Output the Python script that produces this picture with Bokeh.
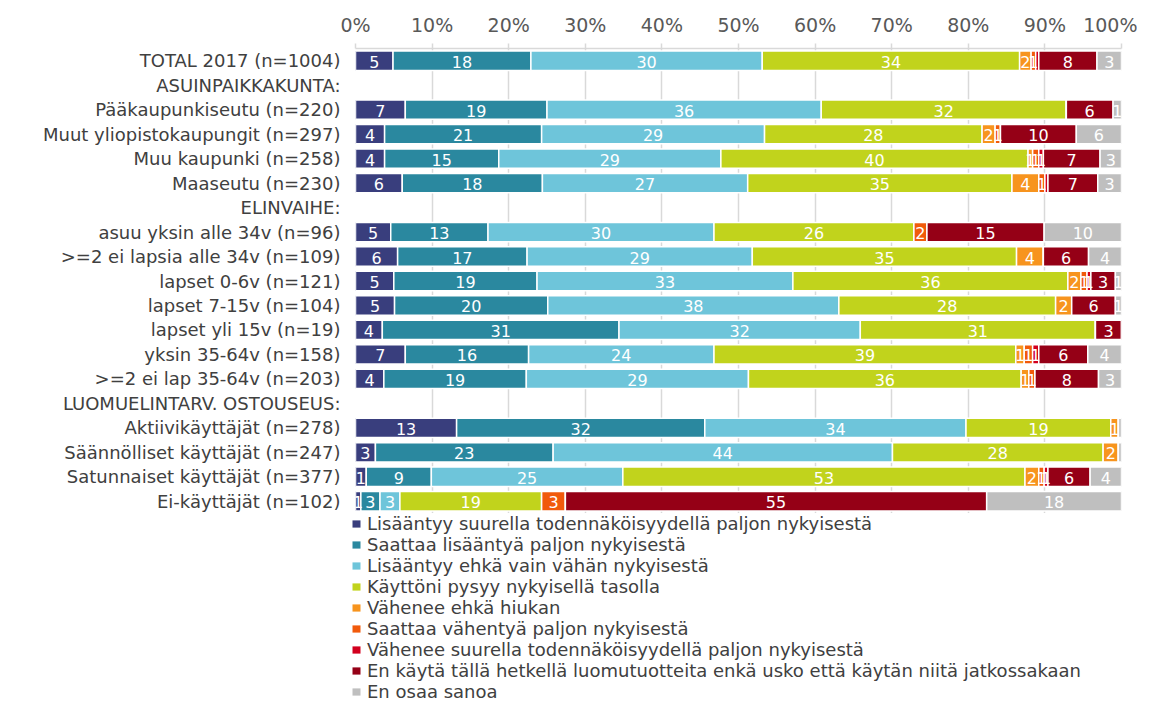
import math
from bokeh.plotting import figure
from bokeh.layouts import column
from bokeh.models import (ColumnDataSource, FactorRange, Range1d, FixedTicker,
                          Legend, LegendItem, Label, LabelSet)
from bokeh.embed import file_html
from bokeh.resources import INLINE
from bokeh.core.properties import value

categories = [
    "TOTAL 2017 (n=1004)", "ASUINPAIKKAKUNTA:", "Pääkaupunkiseutu (n=220)",
    "Muut yliopistokaupungit (n=297)", "Muu kaupunki (n=258)", "Maaseutu (n=230)",
    "ELINVAIHE:", "asuu yksin alle 34v (n=96)", ">=2 ei lapsia alle 34v (n=109)",
    "lapset 0-6v (n=121)", "lapset 7-15v (n=104)", "lapset yli 15v (n=19)",
    "yksin 35-64v (n=158)", ">=2 ei lap 35-64v (n=203)", "LUOMUELINTARV. OSTOUSEUS:",
    "Aktiivikäyttäjät (n=278)", "Säännölliset käyttäjät (n=247)",
    "Satunnaiset käyttäjät (n=377)", "Ei-käyttäjät (n=102)",
]
header_rows = ["ASUINPAIKKAKUNTA:", "ELINVAIHE:", "LUOMUELINTARV. OSTOUSEUS:"]

series_names = [
    "Lisääntyy suurella todennäköisyydellä paljon nykyisestä",
    "Saattaa lisääntyä paljon nykyisestä",
    "Lisääntyy ehkä vain vähän nykyisestä",
    "Käyttöni pysyy nykyisellä tasolla",
    "Vähenee ehkä hiukan",
    "Saattaa vähentyä paljon nykyisestä",
    "Vähenee suurella todennäköisyydellä paljon nykyisestä",
    "En käytä tällä hetkellä luomutuotteita enkä usko että käytän niitä jatkossakaan",
    "En osaa sanoa",
]
colors = ["#393E7D", "#2A889F", "#6EC5DA", "#C1D31C", "#F7941E",
          "#F15A0B", "#D2001E", "#950016", "#BFBFBF"]

lisaantyy_paljon = [4.9, 0, 6.5, 3.8, 3.8, 6.1, 0, 4.6, 5.5, 5.0, 5.1, 3.5, 6.5, 3.7, 0, 13.2, 2.6, 1.4, 0.7]
saattaa_lisaantya = [18.0, 0, 18.5, 20.5, 14.9, 18.3, 0, 12.7, 16.9, 18.7, 20.0, 30.9, 16.1, 18.6, 0, 32.4, 23.2, 8.5, 2.5]
lisaantyy_vahan = [30.2, 0, 35.8, 29.1, 29.0, 26.8, 0, 29.5, 29.4, 33.4, 38.0, 31.5, 24.2, 29.0, 0, 34.1, 44.3, 25.0, 2.6]
pysyy = [33.6, 0, 32.0, 28.4, 40.1, 34.5, 0, 26.1, 34.5, 35.9, 28.3, 30.7, 39.4, 35.6, 0, 18.9, 27.5, 52.5, 18.5]
vahenee_hiukan = [1.5, 0, 0, 1.7, 0.6, 3.5, 0, 0, 3.5, 1.7, 2.1, 0, 1.1, 1.0, 0, 1.0, 2.0, 1.8, 0]
saattaa_vahentya = [0.6, 0, 0, 0.7, 0.8, 0.8, 0, 1.7, 0, 0.8, 0, 0, 1.1, 0.8, 0, 0, 0, 0.7, 3.1]
vahenee_paljon = [0.4, 0, 0, 0, 0.6, 0.4, 0, 0, 0, 0.5, 0, 0, 0.8, 0, 0, 0, 0, 0.5, 0]
en_kayta = [7.6, 0, 6.1, 9.9, 7.4, 6.5, 0, 15.3, 5.9, 3.2, 5.7, 3.4, 6.4, 8.3, 0, 0, 0, 5.5, 55.0]
en_osaa = [3.2, 0, 1.1, 5.9, 2.8, 3.1, 0, 10.1, 4.3, 0.8, 0.8, 0, 4.4, 3.0, 0, 0.4, 0.4, 4.1, 17.6]

tick_values = [0, 10, 20, 30, 40, 50, 60, 70, 80, 90, 100]
tick_labels = ["0%", "10%", "20%", "30%", "40%", "50%", "60%", "70%", "80%", "90%", "100%"]

series = [lisaantyy_paljon, saattaa_lisaantya, lisaantyy_vahan, pysyy, vahenee_hiukan,
          saattaa_vahentya, vahenee_paljon, en_kayta, en_osaa]
keys = [f"s{i}" for i in range(len(series))]

FONT = "DejaVu Sans"
TXT = "#404040"

data = {"cat": categories,
        "la": [0.0 if c in header_rows else 1.0 for c in categories]}
for k, s in zip(keys, series):
    data[k] = s
source = ColumnDataSource(data)

p = figure(width=1137, height=513, output_backend="svg", toolbar_location=None,
           x_range=Range1d(0, 100), y_range=FactorRange(factors=list(reversed(categories))),
           x_axis_location="above",
           min_border_left=355, min_border_right=16, min_border_top=48, min_border_bottom=0)
p.outline_line_color = None
p.background_fill_color = "white"

renderers = p.hbar_stack(keys, y="cat", height=0.79, color=colors, source=source,
                         line_color="white", line_width=1.5, line_alpha="la")

# value labels
lx, ly, lt = [], [], []
for i, c in enumerate(categories):
    left = 0.0
    for s in series:
        v = s[i]
        r = math.floor(v + 0.5)
        if r >= 1:
            lx.append(left + v / 2)
            ly.append(c)
            lt.append(str(r))
        left += v
lab_src = ColumnDataSource(dict(x=lx, y=ly, t=lt))
p.add_layout(LabelSet(x="x", y="y", text="t", source=lab_src, text_align="center",
                      text_baseline="middle", text_color="white", text_font_size="16px",
                      text_font=value(FONT), y_offset=-1))

# axes
xa = p.xaxis[0]
xa.ticker = FixedTicker(ticks=tick_values)
xa.major_label_overrides = {t: l for t, l in zip(tick_values, tick_labels)}
xa.major_label_text_font = FONT
xa.major_label_text_font_size = "19px"
xa.major_label_text_color = "#595959"
xa.axis_line_color = "#D9D9D9"
xa.axis_line_width = 1.5
xa.major_tick_line_color = "#D9D9D9"
xa.major_tick_line_width = 1.5
xa.major_tick_out = 5
xa.major_tick_in = 0
xa.minor_tick_line_color = None
xa.major_label_standoff = 8

ya = p.yaxis[0]
ya.axis_line_color = None
ya.major_tick_line_color = None
ya.minor_tick_line_color = None
ya.major_label_text_font = FONT
ya.major_label_text_font_size = "18px"
ya.major_label_text_color = TXT
ya.major_label_standoff = 9

p.xgrid.grid_line_color = "#D9D9D9"
p.xgrid.grid_line_width = 1.5
p.xgrid.ticker = FixedTicker(ticks=tick_values)
p.ygrid.grid_line_color = None

# cropped title at top-left
p.add_layout(Label(x=-192, y=503, x_units="screen", y_units="screen",
                   text="TOTAL 2017 (n=1004)", text_align="right", text_baseline="alphabetic",
                   text_font=FONT, text_font_size="19px", text_color=TXT))

# legend panel below the chart (swatches only; one hidden point each, off-range)
pl = figure(width=1137, height=188, output_backend="svg", toolbar_location=None,
            x_range=Range1d(0, 1), y_range=Range1d(0, 1),
            min_border_left=0, min_border_right=0, min_border_top=0, min_border_bottom=0)
pl.frame_align = False
pl.axis.visible = False
pl.grid.visible = False
pl.outline_line_color = None
legend_renderers = [pl.hbar(y=[-5], left=[0], right=[0], height=0.5, color=c, line_color=None)
                    for c in colors]
legend = Legend(items=[LegendItem(label=n, renderers=[r]) for n, r in zip(series_names, legend_renderers)],
                location=(351, -1), orientation="vertical",
                label_text_font=FONT, label_text_font_size="18px", label_text_color=TXT,
                glyph_width=10, glyph_height=9, label_height=21, label_standoff=6,
                spacing=0, padding=0, margin=0, border_line_color=None,
                background_fill_alpha=0)
pl.add_layout(legend, "center")

open("out.html", "w").write(file_html(column(p, pl, spacing=0), INLINE))
